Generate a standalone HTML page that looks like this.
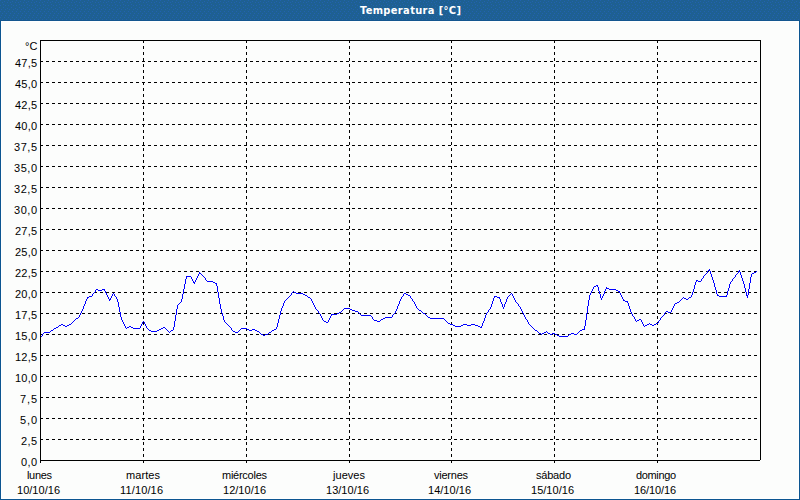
<!DOCTYPE html>
<html><head><meta charset="utf-8"><style>
html,body{margin:0;padding:0;width:800px;height:500px;overflow:hidden;background:#fcfdfc}
#t{position:absolute;left:0;top:0;width:800px;height:20px;background:#1e5f9a;border-bottom:1px solid #14568f}
#f{position:absolute;left:0;top:21px;width:798px;height:478px;border-left:1px solid #0c5591;border-right:1px solid #0c5591;border-bottom:1px solid #0c5591;}
#f i{position:absolute;left:0;top:0;width:798px;height:478px;border:1px solid #fff;box-sizing:border-box;}
svg{position:absolute;left:0;top:0}
.d{stroke:#000;stroke-width:1;stroke-dasharray:3 3;shape-rendering:crispEdges}
.b{fill:none;stroke:#000;stroke-width:1;shape-rendering:crispEdges}
text{font-family:"Liberation Sans",sans-serif;font-size:11px;fill:#000}
text.h{font-family:"DejaVu Sans Condensed","DejaVu Sans",sans-serif;font-weight:bold;font-size:11px;fill:#fff}
</style></head><body>
<div id="t"></div>
<div id="f"><i></i></div>
<svg width="800" height="500" viewBox="0 0 800 500">
<defs><pattern id="dp" width="8" height="20" patternUnits="userSpaceOnUse"><rect width="8" height="20" fill="#1e6092"/><g fill="#2262b0"><rect x="0" y="0" width="1" height="1"/><rect x="4" y="1" width="1" height="1"/><rect x="2" y="2" width="1" height="1"/><rect x="7" y="2" width="1" height="1"/><rect x="3" y="4" width="1" height="1"/><rect x="0" y="5" width="1" height="1"/><rect x="5" y="5" width="1" height="1"/><rect x="3" y="7" width="1" height="1"/><rect x="7" y="8" width="1" height="1"/><rect x="1" y="9" width="1" height="1"/><rect x="5" y="9" width="1" height="1"/><rect x="0" y="11" width="1" height="1"/><rect x="4" y="11" width="1" height="1"/><rect x="2" y="13" width="1" height="1"/><rect x="6" y="13" width="1" height="1"/><rect x="1" y="15" width="1" height="1"/><rect x="5" y="15" width="1" height="1"/><rect x="0" y="17" width="1" height="1"/><rect x="4" y="17" width="1" height="1"/><rect x="2" y="19" width="1" height="1"/><rect x="6" y="19" width="1" height="1"/></g></pattern></defs>
<rect x="0" y="0" width="800" height="20" fill="url(#dp)" shape-rendering="crispEdges"/>
<path d="M40 61.5H760" class="d"/>
<path d="M40 82.5H760" class="d"/>
<path d="M40 103.5H760" class="d"/>
<path d="M40 124.5H760" class="d"/>
<path d="M40 145.5H760" class="d"/>
<path d="M40 166.5H760" class="d"/>
<path d="M40 187.5H760" class="d"/>
<path d="M40 208.5H760" class="d"/>
<path d="M40 229.5H760" class="d"/>
<path d="M40 250.5H760" class="d"/>
<path d="M40 271.5H760" class="d"/>
<path d="M40 292.5H760" class="d"/>
<path d="M40 313.5H760" class="d"/>
<path d="M40 334.5H760" class="d"/>
<path d="M40 355.5H760" class="d"/>
<path d="M40 376.5H760" class="d"/>
<path d="M40 397.5H760" class="d"/>
<path d="M40 418.5H760" class="d"/>
<path d="M40 439.5H760" class="d"/>
<path d="M143.5 40V463" class="d"/>
<path d="M246.5 40V463" class="d"/>
<path d="M349.5 40V463" class="d"/>
<path d="M451.5 40V463" class="d"/>
<path d="M554.5 40V463" class="d"/>
<path d="M657.5 40V463" class="d"/>
<path d="M41 336h1v1h-1zM42 334h1v1h-1zM42 335h1v1h-1zM43 333h1v1h-1zM44 332h6v1h-6zM50 331h1v1h-1zM51 330h2v1h-2zM53 329h1v1h-1zM54 328h2v1h-2zM56 327h2v1h-2zM58 326h1v1h-1zM59 325h2v1h-2zM61 324h2v1h-2zM63 325h2v1h-2zM65 326h2v1h-2zM67 325h2v1h-2zM69 324h2v1h-2zM71 323h1v1h-1zM72 322h1v1h-1zM73 321h1v1h-1zM74 320h1v1h-1zM75 319h1v1h-1zM76 318h2v1h-2zM78 317h1v1h-1zM79 315h1v1h-1zM79 316h1v1h-1zM80 313h1v1h-1zM80 314h1v1h-1zM81 311h1v1h-1zM81 312h1v1h-1zM82 309h1v1h-1zM82 310h1v1h-1zM83 306h1v1h-1zM83 307h1v1h-1zM83 308h1v1h-1zM84 304h1v1h-1zM84 305h1v1h-1zM85 301h1v1h-1zM85 302h1v1h-1zM85 303h1v1h-1zM86 299h1v1h-1zM86 300h1v1h-1zM87 297h2v1h-2zM87 298h1v1h-1zM89 296h3v1h-3zM92 294h1v1h-1zM92 295h1v1h-1zM93 293h1v1h-1zM94 292h1v1h-1zM95 290h1v1h-1zM95 291h1v1h-1zM96 289h2v1h-2zM98 290h4v1h-4zM102 289h3v1h-3zM104 290h1v1h-1zM105 291h1v1h-1zM105 292h1v1h-1zM106 293h1v1h-1zM106 294h1v1h-1zM107 295h1v1h-1zM107 296h1v1h-1zM108 297h1v1h-1zM108 298h1v1h-1zM109 299h2v1h-2zM109 300h1v1h-1zM110 298h1v1h-1zM111 296h1v1h-1zM111 297h1v1h-1zM112 294h1v1h-1zM112 295h1v1h-1zM113 293h1v1h-1zM114 294h1v1h-1zM114 295h1v1h-1zM115 296h1v1h-1zM116 297h1v1h-1zM116 298h1v1h-1zM117 299h1v1h-1zM117 300h1v1h-1zM117 301h1v1h-1zM118 302h1v1h-1zM118 303h1v1h-1zM118 304h1v1h-1zM118 305h1v1h-1zM118 306h1v1h-1zM119 307h1v1h-1zM119 308h1v1h-1zM119 309h1v1h-1zM119 310h1v1h-1zM119 311h1v1h-1zM120 312h1v1h-1zM120 313h1v1h-1zM120 314h1v1h-1zM120 315h1v1h-1zM120 316h1v1h-1zM121 317h1v1h-1zM121 318h1v1h-1zM121 319h1v1h-1zM122 320h1v1h-1zM122 321h1v1h-1zM123 322h1v1h-1zM123 323h1v1h-1zM124 324h1v1h-1zM124 325h1v1h-1zM125 326h1v1h-1zM125 327h1v1h-1zM126 328h1v1h-1zM127 327h2v1h-2zM129 326h2v1h-2zM131 327h2v1h-2zM133 328h7v1h-7zM140 326h1v1h-1zM140 327h1v1h-1zM141 324h1v1h-1zM141 325h1v1h-1zM142 322h1v1h-1zM142 323h1v1h-1zM143 321h1v1h-1zM144 322h1v1h-1zM144 323h1v1h-1zM145 324h1v1h-1zM145 325h1v1h-1zM146 326h1v1h-1zM146 327h1v1h-1zM147 328h1v1h-1zM148 329h1v1h-1zM149 330h2v1h-2zM151 331h6v1h-6zM157 330h2v1h-2zM159 329h2v1h-2zM161 328h2v1h-2zM163 327h2v1h-2zM165 328h1v1h-1zM166 329h1v1h-1zM167 330h1v1h-1zM168 331h1v1h-1zM169 332h1v1h-1zM170 331h1v1h-1zM171 330h2v1h-2zM173 327h1v1h-1zM173 328h1v1h-1zM173 329h1v1h-1zM174 321h1v1h-1zM174 322h1v1h-1zM174 323h1v1h-1zM174 324h1v1h-1zM174 325h1v1h-1zM174 326h1v1h-1zM175 315h1v1h-1zM175 316h1v1h-1zM175 317h1v1h-1zM175 318h1v1h-1zM175 319h1v1h-1zM175 320h1v1h-1zM176 309h1v1h-1zM176 310h1v1h-1zM176 311h1v1h-1zM176 312h1v1h-1zM176 313h1v1h-1zM176 314h1v1h-1zM177 305h1v1h-1zM177 306h1v1h-1zM177 307h1v1h-1zM177 308h1v1h-1zM178 304h1v1h-1zM179 303h1v1h-1zM180 302h1v1h-1zM181 299h1v1h-1zM181 300h1v1h-1zM181 301h1v1h-1zM182 294h1v1h-1zM182 295h1v1h-1zM182 296h1v1h-1zM182 297h1v1h-1zM182 298h1v1h-1zM183 289h1v1h-1zM183 290h1v1h-1zM183 291h1v1h-1zM183 292h1v1h-1zM183 293h1v1h-1zM184 284h1v1h-1zM184 285h1v1h-1zM184 286h1v1h-1zM184 287h1v1h-1zM184 288h1v1h-1zM185 279h1v1h-1zM185 280h1v1h-1zM185 281h1v1h-1zM185 282h1v1h-1zM185 283h1v1h-1zM186 276h5v1h-5zM186 277h1v1h-1zM186 278h1v1h-1zM191 277h1v1h-1zM191 278h1v1h-1zM192 279h1v1h-1zM192 280h1v1h-1zM193 281h1v1h-1zM193 282h2v1h-2zM194 283h1v1h-1zM195 280h1v1h-1zM195 281h1v1h-1zM196 278h1v1h-1zM196 279h1v1h-1zM197 276h1v1h-1zM197 277h1v1h-1zM198 274h1v1h-1zM198 275h1v1h-1zM199 272h1v1h-1zM199 273h2v1h-2zM201 274h1v1h-1zM202 275h1v1h-1zM203 276h1v1h-1zM204 277h1v1h-1zM205 278h1v1h-1zM205 279h1v1h-1zM206 280h1v1h-1zM207 281h6v1h-6zM213 282h2v1h-2zM215 283h2v1h-2zM216 284h1v1h-1zM216 285h1v1h-1zM217 286h1v1h-1zM217 287h1v1h-1zM217 288h1v1h-1zM217 289h1v1h-1zM217 290h1v1h-1zM217 291h1v1h-1zM218 292h1v1h-1zM218 293h1v1h-1zM218 294h1v1h-1zM218 295h1v1h-1zM218 296h1v1h-1zM218 297h1v1h-1zM219 298h1v1h-1zM219 299h1v1h-1zM219 300h1v1h-1zM219 301h1v1h-1zM219 302h1v1h-1zM219 303h1v1h-1zM220 304h1v1h-1zM220 305h1v1h-1zM220 306h1v1h-1zM220 307h1v1h-1zM220 308h1v1h-1zM221 309h1v1h-1zM221 310h1v1h-1zM221 311h1v1h-1zM221 312h1v1h-1zM222 313h1v1h-1zM222 314h1v1h-1zM222 315h1v1h-1zM223 316h1v1h-1zM223 317h1v1h-1zM223 318h1v1h-1zM223 319h1v1h-1zM224 320h1v1h-1zM224 321h1v1h-1zM225 322h1v1h-1zM226 323h1v1h-1zM227 324h1v1h-1zM228 325h1v1h-1zM229 326h1v1h-1zM230 327h1v1h-1zM231 328h1v1h-1zM231 329h1v1h-1zM232 330h1v1h-1zM233 331h2v1h-2zM235 332h3v1h-3zM238 331h1v1h-1zM239 330h1v1h-1zM240 329h1v1h-1zM241 328h6v1h-6zM247 329h2v1h-2zM249 330h3v1h-3zM252 329h3v1h-3zM255 330h2v1h-2zM257 331h2v1h-2zM259 332h1v1h-1zM260 333h1v1h-1zM261 334h2v1h-2zM263 335h2v1h-2zM265 334h3v1h-3zM268 333h1v1h-1zM269 332h2v1h-2zM271 331h1v1h-1zM272 330h2v1h-2zM274 329h2v1h-2zM276 327h1v1h-1zM276 328h1v1h-1zM277 323h1v1h-1zM277 324h1v1h-1zM277 325h1v1h-1zM277 326h1v1h-1zM278 319h1v1h-1zM278 320h1v1h-1zM278 321h1v1h-1zM278 322h1v1h-1zM279 315h1v1h-1zM279 316h1v1h-1zM279 317h1v1h-1zM279 318h1v1h-1zM280 311h1v1h-1zM280 312h1v1h-1zM280 313h1v1h-1zM280 314h1v1h-1zM281 308h1v1h-1zM281 309h1v1h-1zM281 310h1v1h-1zM282 306h1v1h-1zM282 307h1v1h-1zM283 303h1v1h-1zM283 304h1v1h-1zM283 305h1v1h-1zM284 301h1v1h-1zM284 302h1v1h-1zM285 300h1v1h-1zM286 299h1v1h-1zM287 298h1v1h-1zM288 297h1v1h-1zM289 296h1v1h-1zM290 295h1v1h-1zM291 293h1v1h-1zM291 294h1v1h-1zM292 292h1v1h-1zM293 291h1v1h-1zM294 292h2v1h-2zM296 293h7v1h-7zM303 294h2v1h-2zM305 295h2v1h-2zM307 296h1v1h-1zM308 297h2v1h-2zM310 298h1v1h-1zM311 299h1v1h-1zM311 300h1v1h-1zM312 301h1v1h-1zM312 302h1v1h-1zM313 303h1v1h-1zM313 304h1v1h-1zM314 305h1v1h-1zM314 306h1v1h-1zM315 307h1v1h-1zM315 308h1v1h-1zM316 309h1v1h-1zM317 310h1v1h-1zM318 311h1v1h-1zM318 312h1v1h-1zM319 313h1v1h-1zM320 314h1v1h-1zM320 315h1v1h-1zM321 316h1v1h-1zM321 317h1v1h-1zM322 318h1v1h-1zM322 319h1v1h-1zM323 320h1v1h-1zM324 321h2v1h-2zM326 322h2v1h-2zM328 320h1v1h-1zM328 321h1v1h-1zM329 318h1v1h-1zM329 319h1v1h-1zM330 316h1v1h-1zM330 317h1v1h-1zM331 314h6v1h-6zM331 315h1v1h-1zM337 313h2v1h-2zM339 312h2v1h-2zM341 311h1v1h-1zM342 310h1v1h-1zM343 309h1v1h-1zM344 308h6v1h-6zM350 309h2v1h-2zM352 310h3v1h-3zM355 311h3v1h-3zM358 312h1v1h-1zM359 313h1v1h-1zM360 314h1v1h-1zM361 315h10v1h-10zM371 316h1v1h-1zM372 317h1v1h-1zM372 318h1v1h-1zM373 319h1v1h-1zM374 320h3v1h-3zM377 321h3v1h-3zM380 320h1v1h-1zM381 319h2v1h-2zM383 318h2v1h-2zM385 317h7v1h-7zM392 315h1v1h-1zM392 316h1v1h-1zM393 314h1v1h-1zM394 313h1v1h-1zM395 311h1v1h-1zM395 312h1v1h-1zM396 309h1v1h-1zM396 310h1v1h-1zM397 306h1v1h-1zM397 307h1v1h-1zM397 308h1v1h-1zM398 304h1v1h-1zM398 305h1v1h-1zM399 301h1v1h-1zM399 302h1v1h-1zM399 303h1v1h-1zM400 299h1v1h-1zM400 300h1v1h-1zM401 297h1v1h-1zM401 298h1v1h-1zM402 296h1v1h-1zM403 294h1v1h-1zM403 295h1v1h-1zM404 293h2v1h-2zM406 294h2v1h-2zM408 295h2v1h-2zM410 296h1v1h-1zM410 297h1v1h-1zM411 298h1v1h-1zM412 299h1v1h-1zM412 300h1v1h-1zM413 301h1v1h-1zM414 302h1v1h-1zM414 303h1v1h-1zM415 304h1v1h-1zM415 305h1v1h-1zM416 306h1v1h-1zM416 307h1v1h-1zM417 308h1v1h-1zM418 309h1v1h-1zM419 310h2v1h-2zM421 311h1v1h-1zM422 312h1v1h-1zM423 313h2v1h-2zM425 314h1v1h-1zM426 315h1v1h-1zM427 316h1v1h-1zM428 317h2v1h-2zM430 318h14v1h-14zM444 319h1v1h-1zM445 320h1v1h-1zM446 321h1v1h-1zM447 322h1v1h-1zM448 323h2v1h-2zM450 324h3v1h-3zM453 325h2v1h-2zM455 326h6v1h-6zM461 325h2v1h-2zM463 324h4v1h-4zM467 325h4v1h-4zM471 324h4v1h-4zM475 325h3v1h-3zM478 326h2v1h-2zM480 327h2v1h-2zM481 326h1v1h-1zM482 323h1v1h-1zM482 324h1v1h-1zM482 325h1v1h-1zM483 321h1v1h-1zM483 322h1v1h-1zM484 318h1v1h-1zM484 319h1v1h-1zM484 320h1v1h-1zM485 315h1v1h-1zM485 316h1v1h-1zM485 317h1v1h-1zM486 313h1v1h-1zM486 314h1v1h-1zM487 312h1v1h-1zM488 310h1v1h-1zM488 311h1v1h-1zM489 309h1v1h-1zM490 307h1v1h-1zM490 308h1v1h-1zM491 304h1v1h-1zM491 305h1v1h-1zM491 306h1v1h-1zM492 301h1v1h-1zM492 302h1v1h-1zM492 303h1v1h-1zM493 298h1v1h-1zM493 299h1v1h-1zM493 300h1v1h-1zM494 296h3v1h-3zM494 297h1v1h-1zM497 297h3v1h-3zM499 298h1v1h-1zM500 299h1v1h-1zM500 300h1v1h-1zM500 301h1v1h-1zM501 302h1v1h-1zM501 303h1v1h-1zM502 304h1v1h-1zM502 305h1v1h-1zM502 306h1v1h-1zM503 307h1v1h-1zM503 308h1v1h-1zM504 304h1v1h-1zM504 305h1v1h-1zM504 306h1v1h-1zM505 302h1v1h-1zM505 303h1v1h-1zM506 299h1v1h-1zM506 300h1v1h-1zM506 301h1v1h-1zM507 297h1v1h-1zM507 298h1v1h-1zM508 296h1v1h-1zM509 295h1v1h-1zM510 294h1v1h-1zM511 293h1v1h-1zM512 294h1v1h-1zM512 295h1v1h-1zM513 296h1v1h-1zM513 297h1v1h-1zM514 298h1v1h-1zM514 299h1v1h-1zM515 300h1v1h-1zM515 301h1v1h-1zM516 302h1v1h-1zM517 303h1v1h-1zM518 304h1v1h-1zM518 305h1v1h-1zM519 306h1v1h-1zM520 307h1v1h-1zM520 308h1v1h-1zM521 309h1v1h-1zM521 310h1v1h-1zM522 311h1v1h-1zM522 312h1v1h-1zM523 313h1v1h-1zM523 314h1v1h-1zM524 315h1v1h-1zM524 316h1v1h-1zM525 317h1v1h-1zM525 318h1v1h-1zM526 319h1v1h-1zM527 320h1v1h-1zM527 321h1v1h-1zM528 322h1v1h-1zM528 323h1v1h-1zM529 324h1v1h-1zM530 325h1v1h-1zM531 326h1v1h-1zM532 327h1v1h-1zM533 328h1v1h-1zM534 329h1v1h-1zM535 330h2v1h-2zM537 331h1v1h-1zM538 332h1v1h-1zM539 333h2v1h-2zM541 334h1v1h-1zM542 333h2v1h-2zM544 332h2v1h-2zM546 331h1v1h-1zM547 332h1v1h-1zM548 333h2v1h-2zM550 334h2v1h-2zM552 333h3v1h-3zM555 334h2v1h-2zM557 335h2v1h-2zM559 336h9v1h-9zM568 335h1v1h-1zM569 334h2v1h-2zM571 333h3v1h-3zM574 334h3v1h-3zM577 333h1v1h-1zM578 332h1v1h-1zM579 331h1v1h-1zM580 330h2v1h-2zM582 329h3v1h-3zM584 326h1v1h-1zM584 327h1v1h-1zM584 328h1v1h-1zM585 320h1v1h-1zM585 321h1v1h-1zM585 322h1v1h-1zM585 323h1v1h-1zM585 324h1v1h-1zM585 325h1v1h-1zM586 313h1v1h-1zM586 314h1v1h-1zM586 315h1v1h-1zM586 316h1v1h-1zM586 317h1v1h-1zM586 318h1v1h-1zM586 319h1v1h-1zM587 306h1v1h-1zM587 307h1v1h-1zM587 308h1v1h-1zM587 309h1v1h-1zM587 310h1v1h-1zM587 311h1v1h-1zM587 312h1v1h-1zM588 300h1v1h-1zM588 301h1v1h-1zM588 302h1v1h-1zM588 303h1v1h-1zM588 304h1v1h-1zM588 305h1v1h-1zM589 295h1v1h-1zM589 296h1v1h-1zM589 297h1v1h-1zM589 298h1v1h-1zM589 299h1v1h-1zM590 293h1v1h-1zM590 294h1v1h-1zM591 291h1v1h-1zM591 292h1v1h-1zM592 289h1v1h-1zM592 290h1v1h-1zM593 287h1v1h-1zM593 288h1v1h-1zM594 286h2v1h-2zM596 285h2v1h-2zM597 286h1v1h-1zM598 287h1v1h-1zM598 288h1v1h-1zM598 289h1v1h-1zM598 290h1v1h-1zM599 291h1v1h-1zM599 292h1v1h-1zM599 293h1v1h-1zM600 294h1v1h-1zM600 295h1v1h-1zM600 296h1v1h-1zM600 297h1v1h-1zM601 298h1v1h-1zM601 299h1v1h-1zM602 296h1v1h-1zM602 297h1v1h-1zM603 294h1v1h-1zM603 295h1v1h-1zM604 291h1v1h-1zM604 292h1v1h-1zM604 293h1v1h-1zM605 289h1v1h-1zM605 290h1v1h-1zM606 287h1v1h-1zM606 288h3v1h-3zM609 289h7v1h-7zM616 290h2v1h-2zM618 291h2v1h-2zM619 292h1v1h-1zM620 293h1v1h-1zM620 294h1v1h-1zM621 295h1v1h-1zM621 296h1v1h-1zM622 297h1v1h-1zM622 298h1v1h-1zM623 299h1v1h-1zM623 300h2v1h-2zM625 301h3v1h-3zM627 302h1v1h-1zM628 303h1v1h-1zM628 304h1v1h-1zM628 305h1v1h-1zM629 306h1v1h-1zM629 307h1v1h-1zM629 308h1v1h-1zM630 309h1v1h-1zM630 310h1v1h-1zM630 311h1v1h-1zM631 312h1v1h-1zM631 313h1v1h-1zM632 314h1v1h-1zM632 315h1v1h-1zM633 316h1v1h-1zM634 317h1v1h-1zM634 318h1v1h-1zM635 319h1v1h-1zM635 320h1v1h-1zM636 321h1v1h-1zM637 320h2v1h-2zM639 319h2v1h-2zM641 320h1v1h-1zM641 321h1v1h-1zM642 322h1v1h-1zM642 323h1v1h-1zM643 324h1v1h-1zM643 325h1v1h-1zM644 326h1v1h-1zM645 325h2v1h-2zM647 324h2v1h-2zM649 323h1v1h-1zM650 324h2v1h-2zM652 325h2v1h-2zM654 324h2v1h-2zM656 323h2v1h-2zM658 321h1v1h-1zM658 322h1v1h-1zM659 320h1v1h-1zM660 318h1v1h-1zM660 319h1v1h-1zM661 317h1v1h-1zM662 316h1v1h-1zM663 315h1v1h-1zM664 313h1v1h-1zM664 314h1v1h-1zM665 312h1v1h-1zM666 311h2v1h-2zM668 312h3v1h-3zM671 310h1v1h-1zM671 311h1v1h-1zM672 308h1v1h-1zM672 309h1v1h-1zM673 306h1v1h-1zM673 307h1v1h-1zM674 304h1v1h-1zM674 305h1v1h-1zM675 303h2v1h-2zM677 302h2v1h-2zM679 301h1v1h-1zM680 300h1v1h-1zM681 299h1v1h-1zM682 298h1v1h-1zM683 297h1v1h-1zM684 298h2v1h-2zM686 299h2v1h-2zM688 298h1v1h-1zM689 297h2v1h-2zM691 295h1v1h-1zM691 296h1v1h-1zM692 292h1v1h-1zM692 293h1v1h-1zM692 294h1v1h-1zM693 289h1v1h-1zM693 290h1v1h-1zM693 291h1v1h-1zM694 285h1v1h-1zM694 286h1v1h-1zM694 287h1v1h-1zM694 288h1v1h-1zM695 282h1v1h-1zM695 283h1v1h-1zM695 284h1v1h-1zM696 280h2v1h-2zM696 281h1v1h-1zM698 281h3v1h-3zM701 279h1v1h-1zM701 280h1v1h-1zM702 278h1v1h-1zM703 276h1v1h-1zM703 277h1v1h-1zM704 275h1v1h-1zM705 274h1v1h-1zM706 273h1v1h-1zM707 271h1v1h-1zM707 272h1v1h-1zM708 270h2v1h-2zM709 269h1v1h-1zM710 271h1v1h-1zM710 272h1v1h-1zM710 273h1v1h-1zM711 274h1v1h-1zM711 275h1v1h-1zM711 276h1v1h-1zM712 277h1v1h-1zM712 278h1v1h-1zM712 279h1v1h-1zM713 280h1v1h-1zM713 281h1v1h-1zM713 282h1v1h-1zM714 283h1v1h-1zM714 284h1v1h-1zM714 285h1v1h-1zM714 286h1v1h-1zM715 287h1v1h-1zM715 288h1v1h-1zM715 289h1v1h-1zM716 290h1v1h-1zM716 291h1v1h-1zM716 292h1v1h-1zM716 293h1v1h-1zM717 294h1v1h-1zM717 295h2v1h-2zM719 296h8v1h-8zM726 295h1v1h-1zM727 291h1v1h-1zM727 292h1v1h-1zM727 293h1v1h-1zM727 294h1v1h-1zM728 288h1v1h-1zM728 289h1v1h-1zM728 290h1v1h-1zM729 284h1v1h-1zM729 285h1v1h-1zM729 286h1v1h-1zM729 287h1v1h-1zM730 282h1v1h-1zM730 283h1v1h-1zM731 281h1v1h-1zM732 279h1v1h-1zM732 280h1v1h-1zM733 278h1v1h-1zM734 277h1v1h-1zM735 275h1v1h-1zM735 276h1v1h-1zM736 274h1v1h-1zM737 273h1v1h-1zM738 271h2v1h-2zM738 272h1v1h-1zM739 270h1v1h-1zM740 272h1v1h-1zM740 273h1v1h-1zM740 274h1v1h-1zM741 275h1v1h-1zM741 276h1v1h-1zM741 277h1v1h-1zM742 278h1v1h-1zM742 279h1v1h-1zM742 280h1v1h-1zM743 281h1v1h-1zM743 282h1v1h-1zM743 283h1v1h-1zM744 284h1v1h-1zM744 285h1v1h-1zM744 286h1v1h-1zM744 287h1v1h-1zM745 288h1v1h-1zM745 289h1v1h-1zM745 290h1v1h-1zM745 291h1v1h-1zM746 292h1v1h-1zM746 293h1v1h-1zM746 294h1v1h-1zM746 295h2v1h-2zM747 296h1v1h-1zM747 297h1v1h-1zM748 289h1v1h-1zM748 290h1v1h-1zM748 291h1v1h-1zM748 292h1v1h-1zM748 293h1v1h-1zM748 294h1v1h-1zM749 283h1v1h-1zM749 284h1v1h-1zM749 285h1v1h-1zM749 286h1v1h-1zM749 287h1v1h-1zM749 288h1v1h-1zM750 277h1v1h-1zM750 278h1v1h-1zM750 279h1v1h-1zM750 280h1v1h-1zM750 281h1v1h-1zM750 282h1v1h-1zM751 274h1v1h-1zM751 275h1v1h-1zM751 276h1v1h-1zM752 273h2v1h-2zM754 272h2v1h-2zM756 271h1v1h-1z" fill="#0000ff" shape-rendering="crispEdges"/>
<path d="M40 40.5H761M760.5 40V460M40 460.5H760M40.5 40V463" class="b"/>
<text id="title" class="h" x="360.00" y="14" textLength="101.00" lengthAdjust="spacing">Temperatura [°C]</text>
<text id="n0" x="27.00" y="479" textLength="25.00" lengthAdjust="spacing">lunes</text>
<text id="d0" x="17.00" y="494" textLength="43.00" lengthAdjust="spacing">10/10/16</text>
<text id="n1" x="126.00" y="479" textLength="34.00" lengthAdjust="spacing">martes</text>
<text id="d1" x="120.00" y="494" textLength="43.00" lengthAdjust="spacing">11/10/16</text>
<text id="n2" x="222.00" y="479" textLength="45.00" lengthAdjust="spacing">miércoles</text>
<text id="d2" x="223.00" y="494" textLength="43.00" lengthAdjust="spacing">12/10/16</text>
<text id="n3" x="333.00" y="479" textLength="32.00" lengthAdjust="spacing">jueves</text>
<text id="d3" x="326.00" y="494" textLength="43.00" lengthAdjust="spacing">13/10/16</text>
<text id="n4" x="434.00" y="479" textLength="34.00" lengthAdjust="spacing">viernes</text>
<text id="d4" x="428.00" y="494" textLength="43.00" lengthAdjust="spacing">14/10/16</text>
<text id="n5" x="536.00" y="479" textLength="35.00" lengthAdjust="spacing">sábado</text>
<text id="d5" x="531.00" y="494" textLength="43.00" lengthAdjust="spacing">15/10/16</text>
<text id="n6" x="636.00" y="479" textLength="40.00" lengthAdjust="spacing">domingo</text>
<text id="d6" x="634.00" y="494" textLength="42.00" lengthAdjust="spacing">16/10/16</text>
<text id="y0" x="15.00" y="67" textLength="22.00" lengthAdjust="spacing">47,5</text>
<text id="y1" x="15.00" y="88" textLength="22.00" lengthAdjust="spacing">45,0</text>
<text id="y2" x="15.00" y="109" textLength="22.00" lengthAdjust="spacing">42,5</text>
<text id="y3" x="15.00" y="130" textLength="22.00" lengthAdjust="spacing">40,0</text>
<text id="y4" x="14.00" y="151" textLength="23.00" lengthAdjust="spacing">37,5</text>
<text id="y5" x="14.00" y="172" textLength="23.00" lengthAdjust="spacing">35,0</text>
<text id="y6" x="14.00" y="193" textLength="23.00" lengthAdjust="spacing">32,5</text>
<text id="y7" x="14.00" y="214" textLength="23.00" lengthAdjust="spacing">30,0</text>
<text id="y8" x="15.00" y="235" textLength="22.00" lengthAdjust="spacing">27,5</text>
<text id="y9" x="15.00" y="256" textLength="22.00" lengthAdjust="spacing">25,0</text>
<text id="y10" x="15.00" y="277" textLength="22.00" lengthAdjust="spacing">22,5</text>
<text id="y11" x="15.00" y="298" textLength="22.00" lengthAdjust="spacing">20,0</text>
<text id="y12" x="15.00" y="319" textLength="22.00" lengthAdjust="spacing">17,5</text>
<text id="y13" x="15.00" y="340" textLength="22.00" lengthAdjust="spacing">15,0</text>
<text id="y14" x="15.00" y="361" textLength="22.00" lengthAdjust="spacing">12,5</text>
<text id="y15" x="15.00" y="382" textLength="22.00" lengthAdjust="spacing">10,0</text>
<text id="y16" x="20.00" y="403" textLength="17.00" lengthAdjust="spacing">7,5</text>
<text id="y17" x="20.00" y="424" textLength="17.00" lengthAdjust="spacing">5,0</text>
<text id="y18" x="21.00" y="445" textLength="16.00" lengthAdjust="spacing">2,5</text>
<text id="y19" x="21.00" y="466" textLength="16.00" lengthAdjust="spacing">0,0</text>
<text id="unit" x="25.00" y="50">°C</text>
</svg>
</body></html>
